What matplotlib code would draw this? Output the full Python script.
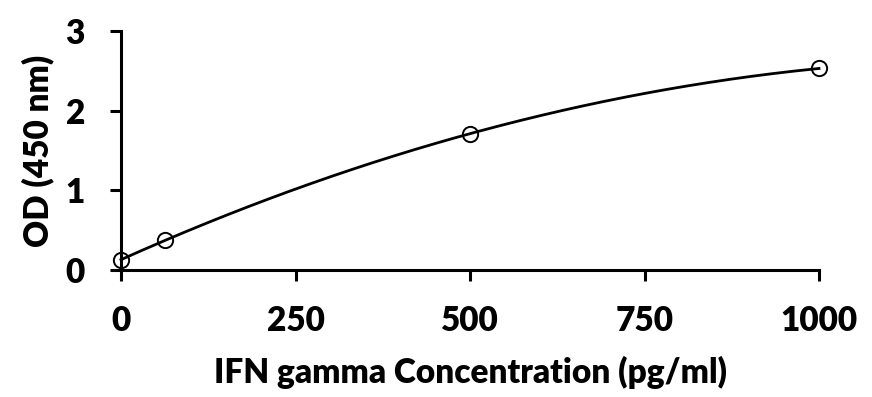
import numpy as np
import matplotlib
matplotlib.use("Agg")
import matplotlib.pyplot as plt

conc = [0, 62.5, 500, 1000]
od = [0.125, 0.375, 1.71, 2.53]
x_ticks = [0, 250, 500, 750, 1000]
y_ticks = [0, 1, 2, 3]

plt.rcParams['font.family'] = ['Lato', 'DejaVu Sans']
fig = plt.figure(figsize=(8.72, 3.97), dpi=100)
ax = fig.add_axes([121/872, 1-270/397, (819-121)/872, (270-31)/397])

coef = np.polyfit(conc, od, 2)
xs = np.linspace(0, 1000, 300)
ax.plot(xs, np.polyval(coef, xs), color='black', lw=2.0, zorder=2)
ax.plot(conc, od, linestyle='none', marker='o', ms=11, mfc='none', mec='black', mew=1.4, zorder=3)

ax.set_xlim(0, 1000)
ax.set_ylim(0, 3)
ax.set_xticks(x_ticks)
ax.set_yticks(y_ticks)
for s in ['top', 'right']:
    ax.spines[s].set_visible(False)
for s in ['left', 'bottom']:
    ax.spines[s].set_linewidth(2.2)
ax.tick_params(width=2.2, length=8, labelsize=24)
ax.tick_params(axis='x', pad=17)
ax.tick_params(axis='y', pad=18)
for lab in ax.get_xticklabels() + ax.get_yticklabels():
    lab.set_fontweight('heavy')
ax.set_xlabel('IFN gamma Concentration (pg/ml)', fontsize=24, fontweight='heavy', labelpad=14)
ax.set_ylabel('OD (450 nm)', fontsize=24, fontweight='heavy', labelpad=8)
for ln in ax.lines:
    ln.set_clip_on(False)

fig.savefig('out.png', dpi=100)
